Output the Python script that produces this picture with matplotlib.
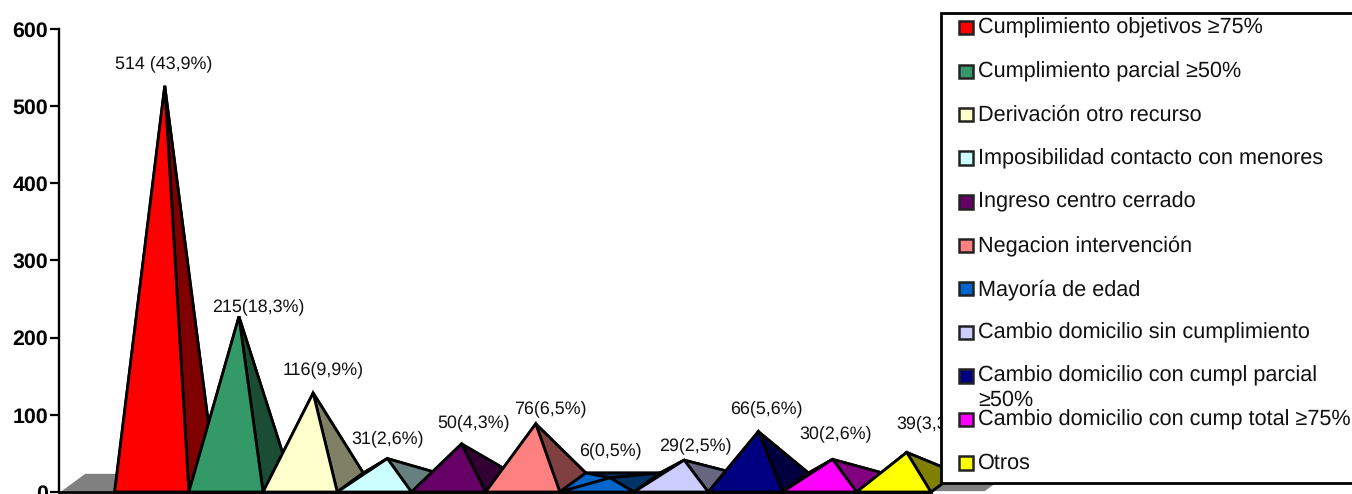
import matplotlib.pyplot as plt
from matplotlib.patches import Rectangle

plt.rcParams['font.family'] = ['Liberation Sans', 'DejaVu Sans']
plt.rcParams['text.hinting'] = 'no_hinting'

categorias = ['Cumplimiento objetivos ≥75%', 'Cumplimiento parcial ≥50%', 'Derivación otro recurso',
              'Imposibilidad contacto con menores', 'Ingreso centro cerrado', 'Negacion intervención',
              'Mayoría de edad', 'Cambio domicilio sin cumplimiento',
              'Cambio domicilio con cumpl parcial\n≥50%', 'Cambio domicilio con cump total ≥75%', 'Otros']
valores = [514, 215, 116, 31, 50, 76, 6, 29, 66, 30, 39]
etiquetas = ['514 (43,9%)', '215(18,3%)', '116(9,9%)', '31(2,6%)', '50(4,3%)', '76(6,5%)',
             '6(0,5%)', '29(2,5%)', '66(5,6%)', '30(2,6%)', '39(3,3%)']
colores = ['#FF0000', '#339966', '#FFFFCC', '#CCFFFF', '#660066', '#FF8080',
           '#0066CC', '#CCCCFF', '#000080', '#FF00FF', '#FFFF00']
oscuros = ['#800000', '#1A4D33', '#808066', '#668080', '#330033', '#804040',
           '#003366', '#666680', '#000040', '#800080', '#808000']
yticks = [0, 100, 200, 300, 400, 500, 600]

# desplazamiento de cada etiqueta respecto al vertice (pixeles)
label_dx = [-1, 19, 10, 0, 12, 15, 0, 11, 8, 3, 26]
label_dy = [22, 10, 23, 20, 21, 15, 27, 15, 23, 26, 29]

W, H = 1352, 494
fig = plt.figure(figsize=(W / 100, H / 100), dpi=100)
ax = fig.add_axes([59 / W, 2 / H, 926 / W, 463 / H])
ax.set_xlim(-1.25, 11.23)
ax.set_ylim(0, 600)

# profundidad del efecto 3D en unidades de datos
prof_x = 26 / 74.2
prof_y = 19 / (463 / 600)
ancho = 0.5
grosor = 2.0

# suelo gris
ax.fill([-1.25, -1.25 + prof_x, 11.23 + prof_x, 11.23], [0, prof_y, prof_y, 0],
        facecolor='#808080', edgecolor='white', linewidth=1.2, clip_on=False, zorder=1)


def piramide(i, valor, claro, oscuro):
    z = 2 + i
    x0, x1 = i - ancho, i + ancho
    ax_ = i + prof_x / 2
    ay_ = valor + prof_y / 2
    lados = [
        ([x0 + prof_x, x1 + prof_x, ax_], [prof_y, prof_y, ay_], oscuro),
        ([x0, x0 + prof_x, ax_], [0, prof_y, ay_], claro),
        ([x1, x1 + prof_x, ax_], [0, prof_y, ay_], oscuro),
        ([x0, x1, ax_], [0, 0, ay_], claro),
    ]
    # la base solo se ve en las piramides muy bajas
    ax.fill([x0, x0 + prof_x, x1 + prof_x, x1], [0, prof_y, prof_y, 0], facecolor=oscuro,
            edgecolor='black', linewidth=grosor, clip_on=False, zorder=z)
    for xs, ys, c in lados:
        ax.fill(xs, ys, facecolor=c, edgecolor='black', linewidth=grosor, clip_on=False, zorder=z)
    return ax_, ay_


for i in range(len(valores)):
    px, py = piramide(i, valores[i], colores[i], oscuros[i])
    ax.annotate(etiquetas[i], (px, py), xytext=(label_dx[i] * 0.72, label_dy[i] * 0.72),
                textcoords='offset points', ha='center', va='center', fontsize=12.9,
                color='#111111', zorder=30, annotation_clip=False)

ax.set_xticks([])
ax.set_yticks(yticks)
ax.tick_params(axis='y', length=6.5, width=1.6, pad=1.5, labelsize=15.4)
for t in ax.get_yticklabels():
    t.set_fontweight('bold')
ax.spines['top'].set_visible(False)
ax.spines['right'].set_visible(False)
ax.spines['left'].set_linewidth(1.7)
ax.spines['bottom'].set_linewidth(2.0)
# el eje inferior termina con la ultima piramide
ax.spines['bottom'].set_bounds(-1.25, 10.5)
for s in ax.spines.values():
    s.set_zorder(25)

# leyenda dibujada a mano: el texto de dos lineas se monta sobre la siguiente
caja = Rectangle((941 / W, 1 - 483 / H), 500 / W, 470 / H, transform=fig.transFigure,
                 facecolor='white', edgecolor='black', linewidth=2.0, zorder=40)
fig.add_artist(caja)
for i, nombre in enumerate(categorias):
    yc = 28 + i * 43.5
    fig.add_artist(Rectangle((959.5 / W, 1 - (yc + 6.5) / H), 13.5 / W, 13.5 / H, transform=fig.transFigure,
                             facecolor=colores[i], edgecolor='#222222', linewidth=1.8, zorder=41))
    fig.text(978 / W, 1 - (yc - 10) / H, nombre, fontsize=15.6, va='top', ha='left',
             color='#111111', linespacing=1.2, zorder=42)

fig.savefig('out.png', dpi=100)
